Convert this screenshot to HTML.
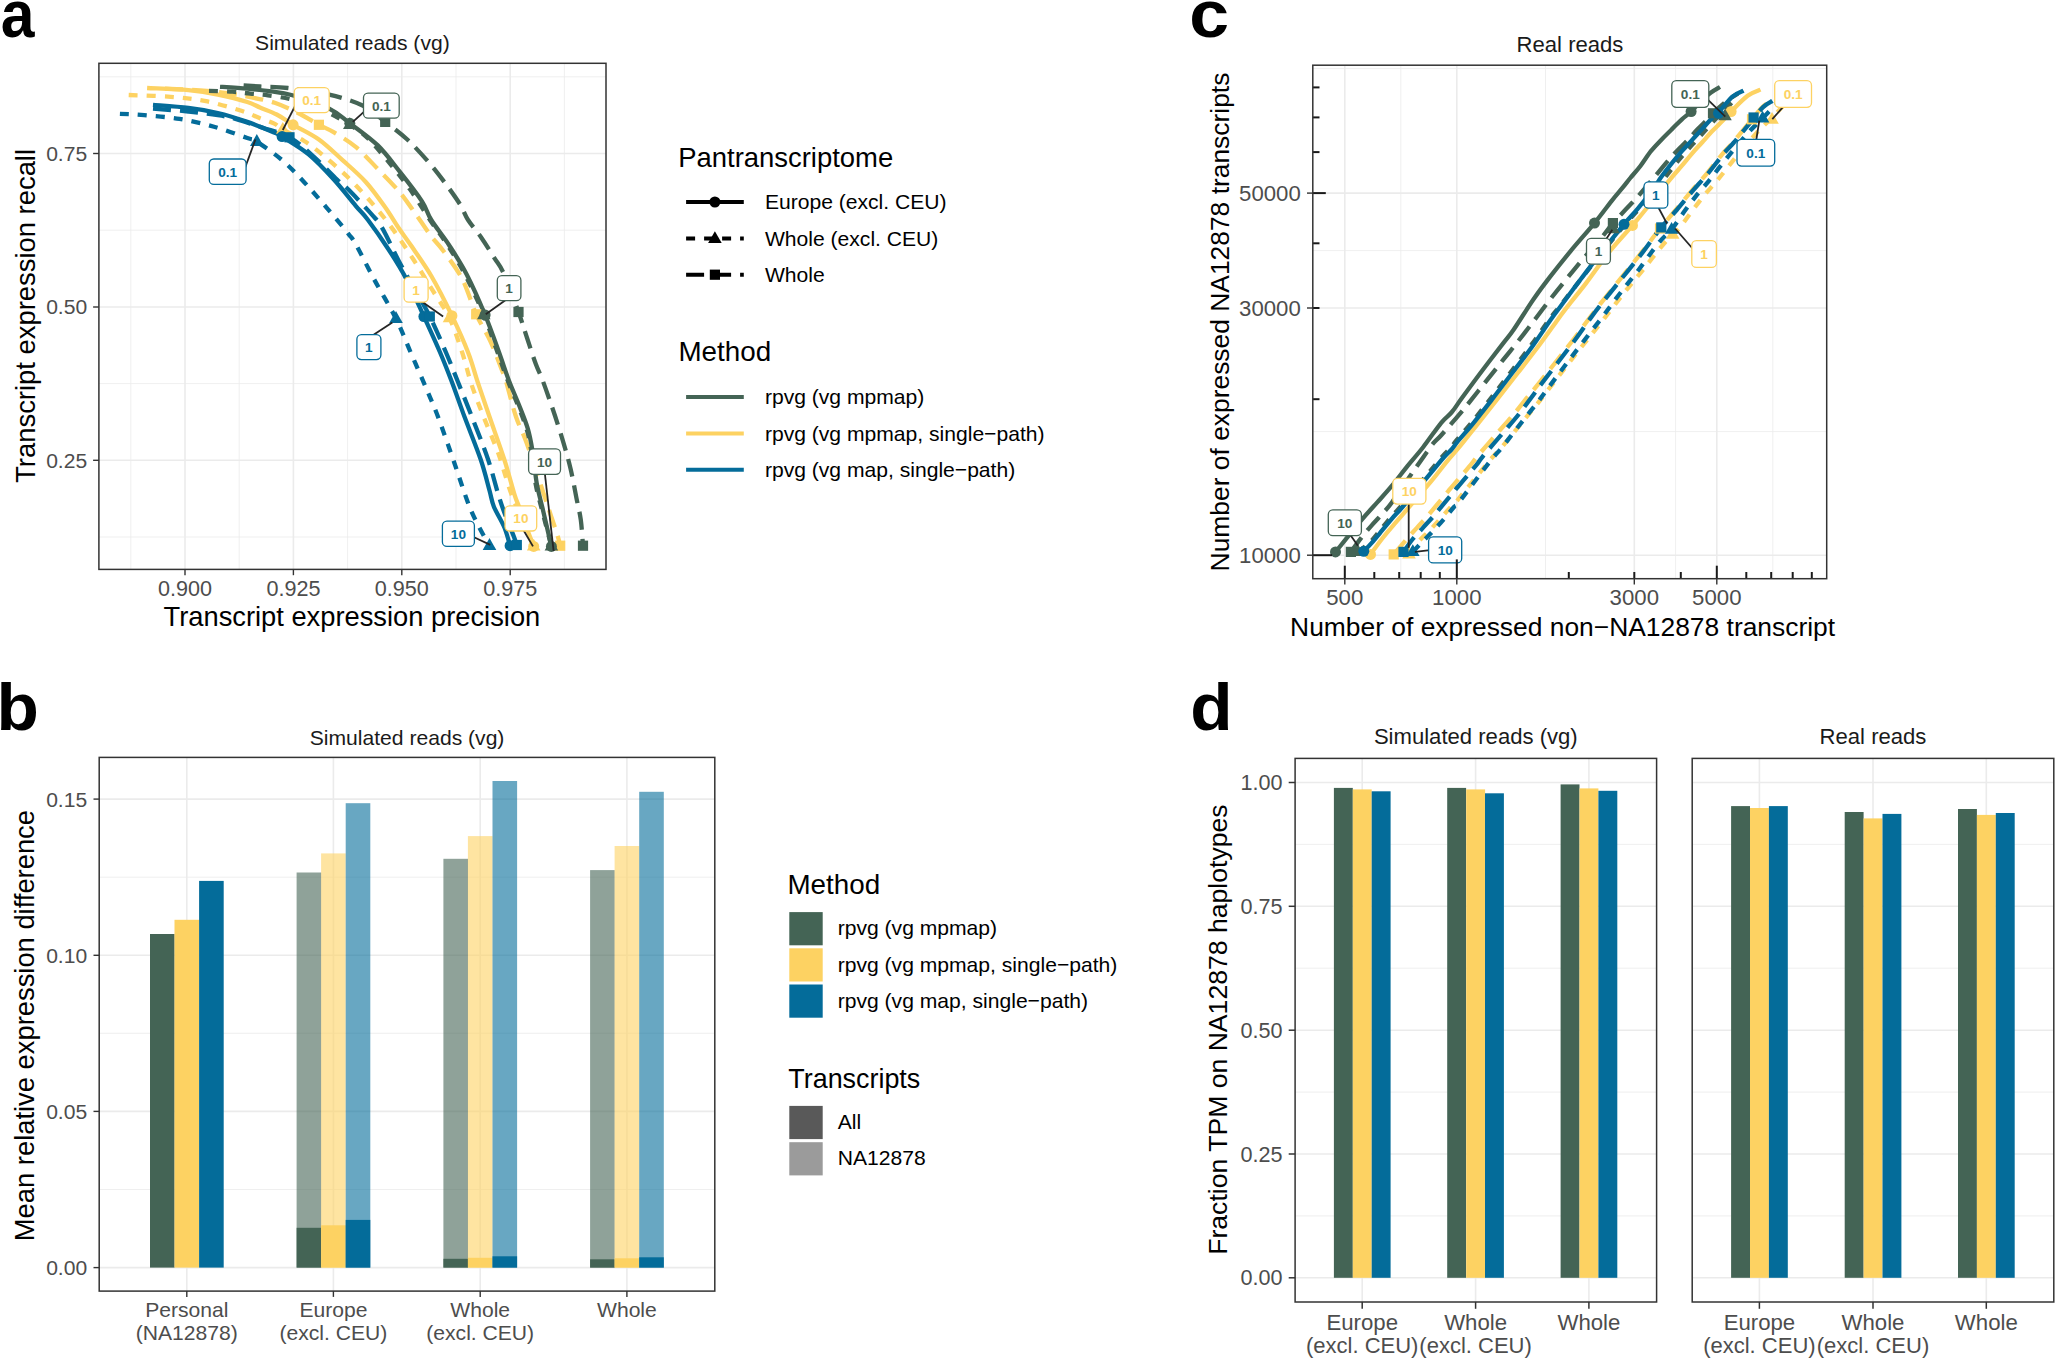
<!DOCTYPE html>
<html lang="en"><head><meta charset="utf-8"><title>Figure</title>
<style>html,body{margin:0;padding:0;background:#fff;}svg{display:block;}</style></head>
<body>
<svg width="2055" height="1358" viewBox="0 0 2055 1358" font-family='"Liberation Sans", sans-serif'>
<rect width="2055" height="1358" fill="#fff"/>
<text transform="translate(0.7 36.6) scale(0.92 1)" x="0" y="0" font-size="66" font-weight="bold" fill="#000">a</text>
<text transform="translate(-3.4 730.4) scale(1.05 1)" x="0" y="0" font-size="66" font-weight="bold" fill="#000">b</text>
<text transform="translate(1189.2 36.6) scale(1.085 1)" x="0" y="0" font-size="66" font-weight="bold" fill="#000">c</text>
<text transform="translate(1190.2 730.4) scale(1.05 1)" x="0" y="0" font-size="66" font-weight="bold" fill="#000">d</text>
<rect x="98.9" y="63.3" width="507.1" height="506.1" fill="#fff"/>
<line x1="130.8" y1="63.3" x2="130.8" y2="569.4" stroke="#EBEBEB" stroke-width="0.8" />
<line x1="239.2" y1="63.3" x2="239.2" y2="569.4" stroke="#EBEBEB" stroke-width="0.8" />
<line x1="347.6" y1="63.3" x2="347.6" y2="569.4" stroke="#EBEBEB" stroke-width="0.8" />
<line x1="456" y1="63.3" x2="456" y2="569.4" stroke="#EBEBEB" stroke-width="0.8" />
<line x1="564.4" y1="63.3" x2="564.4" y2="569.4" stroke="#EBEBEB" stroke-width="0.8" />
<line x1="98.9" y1="76.8" x2="606" y2="76.8" stroke="#EBEBEB" stroke-width="0.8" />
<line x1="98.9" y1="230.2" x2="606" y2="230.2" stroke="#EBEBEB" stroke-width="0.8" />
<line x1="98.9" y1="383.6" x2="606" y2="383.6" stroke="#EBEBEB" stroke-width="0.8" />
<line x1="98.9" y1="537" x2="606" y2="537" stroke="#EBEBEB" stroke-width="0.8" />
<line x1="185" y1="63.3" x2="185" y2="569.4" stroke="#EBEBEB" stroke-width="1.6" />
<line x1="293.4" y1="63.3" x2="293.4" y2="569.4" stroke="#EBEBEB" stroke-width="1.6" />
<line x1="401.8" y1="63.3" x2="401.8" y2="569.4" stroke="#EBEBEB" stroke-width="1.6" />
<line x1="510.2" y1="63.3" x2="510.2" y2="569.4" stroke="#EBEBEB" stroke-width="1.6" />
<line x1="98.9" y1="153.5" x2="606" y2="153.5" stroke="#EBEBEB" stroke-width="1.6" />
<line x1="98.9" y1="307" x2="606" y2="307" stroke="#EBEBEB" stroke-width="1.6" />
<line x1="98.9" y1="460.3" x2="606" y2="460.3" stroke="#EBEBEB" stroke-width="1.6" />
<path d="M128.7 95 C135.7 95.3 157.8 95.8 170.7 96.8 C183.6 97.8 194.2 98.9 206 101.2 C217.8 103.5 232.4 108 241.4 110.8 C250.4 113.6 254.6 116.1 260 118.2 C265.4 120.3 270 121.4 273.8 123.3 C277.6 125.2 277.7 126.5 282.8 129.5 C287.9 132.4 297.7 136.9 304.2 141 C310.7 145.1 314.8 148.4 321.9 154.3 C329 160.2 338.8 168.5 346.9 176.3 C355 184.2 363.1 192.9 370.5 201.4 C377.9 209.9 384.3 217.7 391.5 227.4 C398.7 237.1 406.7 249.2 413.6 259.8 C420.5 270.4 426.8 281 432.8 290.7 C438.8 300.4 444.6 307.7 449.5 318 C454.4 328.3 458.5 341.4 462.2 352.5 C465.9 363.6 467.9 373.7 471.5 384.4 C475.1 395.1 479.1 405.3 483.6 416.8 C488.1 428.3 494 441.3 498.4 453.6 C502.8 465.9 506.5 480.3 510.1 490.5 C513.7 500.7 516.1 505.7 520 515 C523.9 524.3 531.4 541.2 533.7 546.4" fill="none" stroke="#FDD262" stroke-width="4.3" stroke-linejoin="round" stroke-dasharray="9 9"/>
<path d="M147.1 88 C154 88.4 176.6 89.1 188.4 90.2 C200.2 91.3 208 92.6 217.8 94.6 C227.6 96.6 240.3 99.8 247.3 102 C254.3 104.2 255.1 105.4 260 107.5 C264.9 109.6 271.2 111.6 276.7 114.5 C282.2 117.4 286.1 120.6 293.1 124.8 C300.1 129 310.7 133.6 318.9 139.5 C327.1 145.4 334.6 153 342.5 160.1 C350.4 167.2 358.9 174.3 366 182.2 C373.1 190.1 379.9 199.8 385.2 207.3 C390.5 214.8 393.8 220.7 398 227 C402.2 233.3 405.1 236.8 410.7 245 C416.2 253.2 424.4 264.2 431.3 276 C438.2 287.8 445.8 302.9 451.9 315.7 C458 328.4 463.8 341.3 468.1 352.5 C472.5 363.7 474.4 372.3 478 383 C481.6 393.7 485.1 404.1 489.5 416.8 C493.9 429.6 500.1 446.5 504.3 459.5 C508.5 472.5 512.1 487 514.6 494.9 C517.1 502.8 516.9 501 519 506.7 C521.1 512.4 524.5 522.4 527 529 C529.5 535.6 532.6 543.5 533.7 546.4" fill="none" stroke="#FDD262" stroke-width="4.3" stroke-linejoin="round"/>
<path d="M165 88.6 C170.8 88.9 189.2 89.6 200 90.4 C210.8 91.2 221.4 92.3 230 93.5 C238.6 94.7 244.2 96 251.7 97.5 C259.1 99 267 100.1 274.7 102.7 C282.4 105.3 290.6 109.3 298 113 C305.4 116.7 313 121.6 318.9 124.8 C324.8 128 327.5 128.5 333.6 132.2 C339.7 135.9 348.3 140.8 355.7 146.9 C363.1 153 370.4 161.4 377.8 169 C385.2 176.6 393.4 184.7 399.9 192.5 C406.4 200.3 411.8 208.8 417 216 C422.2 223.2 426.7 230.2 431 236 C435.3 241.8 437.8 243.3 443 250.5 C448.2 257.6 456.7 268.3 462.2 278.9 C467.7 289.5 471.5 304 476.2 314.3 C480.9 324.6 485.9 331.5 490.2 340.8 C494.5 350.1 499.4 363.5 502 370.2 C504.6 376.9 503.7 373.2 506 381 C508.3 388.8 512.6 406.7 516 416.8 C519.4 426.9 522.1 430.4 526.3 441.9 C530.5 453.4 537.2 474.2 541.1 486 C545 497.8 547.2 504.4 549.9 512.5 C552.6 520.6 555.6 529.1 557.3 534.6 C559 540.1 559.7 543.9 560.2 545.7" fill="none" stroke="#FDD262" stroke-width="4.3" stroke-linejoin="round" stroke-dasharray="18 9"/>
<path d="M209 90.9 C212.9 91 225.6 91.2 232.5 91.7 C239.4 92.2 244.3 93 250.2 93.6 C256.1 94.2 261.3 94.4 267.9 95.3 C274.4 96.2 282.5 97.4 289.5 99 C296.5 100.6 303.2 102.6 310 105 C316.8 107.4 323.4 110.2 330 113.5 C336.6 116.8 343.6 120.7 349.8 124.8 C356.1 128.9 360.9 131.6 367.5 138 C374.1 144.4 382.5 154.5 389.6 163.1 C396.7 171.7 403.5 180.1 410.2 189.6 C416.9 199.1 423.8 210.8 430 220 C436.2 229.2 441.7 235.9 447.5 245 C453.3 254.1 458.9 262.8 465 274.5 C471.1 286.2 478.4 302 483.8 315 C489.2 328 493.7 341.7 497.6 352.5 C501.6 363.3 504.1 371.2 507.5 380 C510.9 388.8 514.6 396.9 517.8 405 C521 413.1 524.3 421.2 526.5 428.6 C528.7 436 529.5 440.1 531 449.2 C532.5 458.3 533.8 473.3 535.5 483.1 C537.2 492.9 538.9 497.6 541.5 508.1 C544.1 518.6 549.8 540 551.4 546.4" fill="none" stroke="#446455" stroke-width="4.3" stroke-linejoin="round" stroke-dasharray="9 9"/>
<path d="M220 86.8 C224.6 87.1 239.1 88 247.3 88.7 C255.5 89.4 261.9 90.1 269.4 91.2 C276.9 92.3 282.4 92.4 292.4 95.3 C302.4 98.2 319.6 103.9 329.2 108.6 C338.8 113.3 341.7 117.2 349.8 123.3 C357.9 129.4 369.5 137.3 377.8 145.4 C386.1 153.5 392.5 162.6 399.9 171.9 C407.3 181.2 416.8 193.4 422 201.4 C427.2 209.4 426.8 212.7 431.3 220 C435.8 227.3 443.1 235.9 449 245 C454.9 254.1 460.7 262.8 466.7 274.5 C472.7 286.2 479.7 302 485.1 315 C490.5 328 495.2 341.7 499.1 352.5 C503 363.3 505.4 371.2 508.7 380 C512 388.8 515.8 396.9 519 405 C522.2 413.1 525.6 421.2 527.8 428.6 C530 436 530.7 440.1 532.2 449.2 C533.7 458.3 535 473.3 536.7 483.1 C538.4 492.9 540 497.6 542.5 508.1 C545 518.6 549.9 540 551.4 546.4" fill="none" stroke="#446455" stroke-width="4.3" stroke-linejoin="round"/>
<path d="M243.6 85.3 C246.3 85.5 252.6 86 260 86.5 C267.4 87 276.5 86.7 288 88 C299.5 89.3 316.7 91.6 329.2 94.6 C341.7 97.5 353.8 101.2 363.1 105.7 C372.4 110.2 377.8 116.3 385.2 121.9 C392.6 127.5 399.9 132.6 407.3 139.5 C414.7 146.4 423 155.7 429.4 163.1 C435.8 170.5 440.5 176.8 445.6 183.7 C450.7 190.6 456.2 198.2 460 204.3 C463.8 210.4 464.5 214.4 468.1 220 C471.7 225.6 477 231.3 481.4 237.7 C485.8 244.1 490.9 252.4 494.6 258.3 C498.3 264.2 499.5 264.1 503.5 273 C507.5 281.9 514.6 301.2 518.5 312 C522.4 322.8 524.1 329.1 527 337.8 C529.9 346.5 533.3 357.3 535.9 364.3 C538.5 371.3 539.7 372.5 542.5 380 C545.3 387.5 549.4 399.2 552.9 409.5 C556.4 419.8 560.3 432.1 563.2 441.9 C566.1 451.7 568.3 459.1 570.5 468.4 C572.7 477.7 574.7 489.2 576.4 497.8 C578.1 506.4 579.7 511.9 580.8 519.9 C581.9 527.9 582.6 541.4 583 545.7" fill="none" stroke="#446455" stroke-width="4.3" stroke-linejoin="round" stroke-dasharray="18 9"/>
<path d="M119.9 113.8 C124 114 134.3 114.3 144.2 115.2 C154.1 116.1 167.7 116.9 179.5 118.9 C191.3 120.9 203.6 123.8 214.9 127 C226.2 130.2 240.3 135.6 247.3 138 C254.3 140.4 251 138 256.8 141.7 C262.6 145.4 274.2 153.3 282.1 160.1 C290 166.8 296.8 174.3 304.2 182.2 C311.6 190.1 318.9 198.7 326.3 207.3 C333.7 215.9 343.4 227.5 348.4 233.8 C353.4 240.1 351.9 237.5 356.2 245 C360.4 252.5 367.3 266.6 373.9 278.9 C380.5 291.2 389.9 306.4 396 318.7 C402.1 331 405.8 341.2 410.7 352.5 C415.6 363.8 420.8 375.7 425.4 386.4 C429.9 397.1 433.2 404.1 438 416.8 C442.8 429.5 449.1 447.8 454.2 462.5 C459.3 477.2 464.7 494.4 468.9 505.2 C473.1 516 475.8 520.5 479.2 527.3 C482.6 534 487.8 542.6 489.5 545.7" fill="none" stroke="#046C9A" stroke-width="4.3" stroke-linejoin="round" stroke-dasharray="9 9"/>
<path d="M153 104.9 C158.9 105.4 177.6 106.6 188.4 107.9 C199.2 109.2 208 110.7 217.8 113 C227.6 115.3 237.5 118.5 247.3 121.9 C257.1 125.3 270.9 131.2 276.7 133.6 C282.5 136 276.8 133.1 282.1 136.6 C287.4 140.1 300 147.2 308.6 154.3 C317.2 161.4 325.8 170.7 333.6 179.3 C341.5 187.9 350 199 355.7 205.8 C361.4 212.6 362.5 212.7 368 220 C373.5 227.3 382.2 239.7 388.6 249.5 C395 259.3 400.4 267.7 406.3 278.9 C412.2 290.1 418.3 304.2 423.9 316.5 C429.5 328.8 435.5 341.8 440.1 352.5 C444.7 363.2 447.4 370.3 451.5 381 C455.6 391.7 459.6 403.7 464.5 416.8 C469.4 429.9 476.5 447.2 480.7 459.5 C484.9 471.8 487.3 482.6 489.5 490.5 C491.7 498.4 491.4 500.6 493.9 506.7 C496.4 512.8 501.6 520.8 504.3 527.3 C507 533.8 509.1 542.6 510.1 545.7" fill="none" stroke="#046C9A" stroke-width="4.3" stroke-linejoin="round"/>
<path d="M153 108.6 C158.9 109.1 177.6 110.4 188.4 111.5 C199.2 112.6 210 114 217.8 115.2 C225.7 116.4 228.1 116.9 235.5 118.9 C242.9 121 253 124.4 262 127.5 C271 130.6 281.2 132.7 289.5 137.3 C297.8 141.9 304.1 148 312 155 C319.9 162 330.9 173.7 337 179.5 C343.1 185.3 342.6 183.8 348.4 189.6 C354.2 195.4 366.2 208.1 371.9 214.6 C377.6 221.1 378.2 221 382.7 228.8 C387.2 236.6 393.6 251.2 398.9 261.2 C404.2 271.2 409.4 279.8 414.5 289 C419.6 298.2 424.6 305.9 429.8 316.5 C435.1 327.1 441.4 341.8 446 352.5 C450.6 363.2 453.3 370.3 457.6 381 C461.9 391.7 466.8 403.7 471.9 416.8 C477 429.9 483.7 446.5 488.1 459.5 C492.5 472.5 495.7 486.1 498.4 494.9 C501.1 503.7 501.9 505.9 504.3 512.5 C506.8 519.1 511 529.2 513.1 534.6 C515.2 540 516.2 543.3 516.8 545" fill="none" stroke="#046C9A" stroke-width="4.3" stroke-linejoin="round" stroke-dasharray="18 9"/>
<path d="M282.8 121.9 L289.6 133.7 L276 133.7 Z" fill="#FDD262"/>
<path d="M449.5 310.4 L456.3 322.2 L442.7 322.2 Z" fill="#FDD262"/>
<path d="M533.7 538.8 L540.5 550.6 L526.9 550.6 Z" fill="#FDD262"/>
<circle cx="293.1" cy="124.8" r="5.5" fill="#FDD262"/>
<circle cx="451.9" cy="315.7" r="5.5" fill="#FDD262"/>
<circle cx="533.7" cy="546.4" r="5.5" fill="#FDD262"/>
<rect x="313.8" y="119.7" width="10.2" height="10.2" fill="#FDD262"/>
<rect x="471.1" y="309.2" width="10.2" height="10.2" fill="#FDD262"/>
<rect x="555.1" y="540.6" width="10.2" height="10.2" fill="#FDD262"/>
<path d="M349.8 117.2 L356.6 129 L343 129 Z" fill="#446455"/>
<path d="M483.8 307.4 L490.6 319.2 L477 319.2 Z" fill="#446455"/>
<path d="M551.4 538.8 L558.2 550.6 L544.6 550.6 Z" fill="#446455"/>
<circle cx="349.8" cy="123.3" r="5.5" fill="#446455"/>
<circle cx="485.1" cy="315" r="5.5" fill="#446455"/>
<circle cx="551.4" cy="546.4" r="5.5" fill="#446455"/>
<rect x="380.1" y="116.8" width="10.2" height="10.2" fill="#446455"/>
<rect x="513.4" y="306.9" width="10.2" height="10.2" fill="#446455"/>
<rect x="577.9" y="540.6" width="10.2" height="10.2" fill="#446455"/>
<path d="M256.8 134.1 L263.6 145.9 L250 145.9 Z" fill="#046C9A"/>
<path d="M396 311.1 L402.8 322.9 L389.2 322.9 Z" fill="#046C9A"/>
<path d="M489.5 538.1 L496.3 549.9 L482.7 549.9 Z" fill="#046C9A"/>
<circle cx="282.1" cy="136.6" r="5.5" fill="#046C9A"/>
<circle cx="423.9" cy="316.5" r="5.5" fill="#046C9A"/>
<circle cx="510.1" cy="545.7" r="5.5" fill="#046C9A"/>
<rect x="284.4" y="132.2" width="10.2" height="10.2" fill="#046C9A"/>
<rect x="424.7" y="311.4" width="10.2" height="10.2" fill="#046C9A"/>
<rect x="511.7" y="539.9" width="10.2" height="10.2" fill="#046C9A"/>
<line x1="296" y1="104.2" x2="282.8" y2="130" stroke="#262626" stroke-width="1.8" />
<rect x="294.2" y="87.7" width="35" height="25" rx="4.5" ry="4.5" fill="#fff" stroke="#FDD262" stroke-width="1.3"/>
<text x="311.7" y="105.1" font-size="13.6" fill="#FDD262" text-anchor="middle" font-weight="bold" >0.1</text>
<line x1="365" y1="110.8" x2="352.8" y2="121.9" stroke="#262626" stroke-width="1.8" />
<rect x="363.5" y="93.1" width="35.7" height="25.1" rx="4.5" ry="4.5" fill="#fff" stroke="#446455" stroke-width="1.3"/>
<text x="381.4" y="110.6" font-size="13.6" fill="#446455" text-anchor="middle" font-weight="bold" >0.1</text>
<line x1="245" y1="168" x2="255.4" y2="139.5" stroke="#262626" stroke-width="1.8" />
<rect x="209.3" y="159" width="36.8" height="25.4" rx="4.5" ry="4.5" fill="#fff" stroke="#046C9A" stroke-width="1.3"/>
<text x="227.7" y="176.6" font-size="13.6" fill="#046C9A" text-anchor="middle" font-weight="bold" >0.1</text>
<line x1="371.7" y1="336" x2="392.3" y2="322.4" stroke="#262626" stroke-width="1.8" />
<rect x="356.9" y="334.6" width="24" height="25" rx="4.5" ry="4.5" fill="#fff" stroke="#046C9A" stroke-width="1.3"/>
<text x="368.9" y="352" font-size="13.6" fill="#046C9A" text-anchor="middle" font-weight="bold" >1</text>
<line x1="421" y1="301" x2="443.1" y2="316.5" stroke="#262626" stroke-width="1.8" />
<rect x="404.1" y="277.1" width="24" height="25.1" rx="4.5" ry="4.5" fill="#fff" stroke="#FDD262" stroke-width="1.3"/>
<text x="416.1" y="294.5" font-size="13.6" fill="#FDD262" text-anchor="middle" font-weight="bold" >1</text>
<line x1="506.4" y1="299.5" x2="485.8" y2="314.3" stroke="#262626" stroke-width="1.8" />
<rect x="497.3" y="275.7" width="23.6" height="25" rx="4.5" ry="4.5" fill="#fff" stroke="#446455" stroke-width="1.3"/>
<text x="509.1" y="293.1" font-size="13.6" fill="#446455" text-anchor="middle" font-weight="bold" >1</text>
<line x1="473" y1="536.8" x2="490.3" y2="544.9" stroke="#262626" stroke-width="1.8" />
<rect x="442.4" y="521.1" width="32" height="25.3" rx="4.5" ry="4.5" fill="#fff" stroke="#046C9A" stroke-width="1.3"/>
<text x="458.4" y="538.6" font-size="13.6" fill="#046C9A" text-anchor="middle" font-weight="bold" >10</text>
<line x1="523.4" y1="530" x2="533" y2="546.4" stroke="#262626" stroke-width="1.8" />
<rect x="505" y="505.9" width="31.7" height="25.1" rx="4.5" ry="4.5" fill="#fff" stroke="#FDD262" stroke-width="1.3"/>
<text x="520.9" y="523.4" font-size="13.6" fill="#FDD262" text-anchor="middle" font-weight="bold" >10</text>
<line x1="544.8" y1="473" x2="553.6" y2="550.8" stroke="#262626" stroke-width="1.8" />
<rect x="528.6" y="448.9" width="31.9" height="25.4" rx="4.5" ry="4.5" fill="#fff" stroke="#446455" stroke-width="1.3"/>
<text x="544.5" y="466.5" font-size="13.6" fill="#446455" text-anchor="middle" font-weight="bold" >10</text>
<rect x="98.9" y="63.3" width="507.1" height="506.1" fill="none" stroke="#333333" stroke-width="1.5"/>
<line x1="185" y1="569.4" x2="185" y2="575.2" stroke="#333333" stroke-width="1.4" />
<text x="185" y="595.8" font-size="21.6" fill="#4D4D4D" text-anchor="middle" >0.900</text>
<line x1="293.4" y1="569.4" x2="293.4" y2="575.2" stroke="#333333" stroke-width="1.4" />
<text x="293.4" y="595.8" font-size="21.6" fill="#4D4D4D" text-anchor="middle" >0.925</text>
<line x1="401.8" y1="569.4" x2="401.8" y2="575.2" stroke="#333333" stroke-width="1.4" />
<text x="401.8" y="595.8" font-size="21.6" fill="#4D4D4D" text-anchor="middle" >0.950</text>
<line x1="510.2" y1="569.4" x2="510.2" y2="575.2" stroke="#333333" stroke-width="1.4" />
<text x="510.2" y="595.8" font-size="21.6" fill="#4D4D4D" text-anchor="middle" >0.975</text>
<line x1="93.1" y1="153.5" x2="98.9" y2="153.5" stroke="#333333" stroke-width="1.4" />
<text x="87.2" y="160.9" font-size="21.1" fill="#4D4D4D" text-anchor="end" >0.75</text>
<line x1="93.1" y1="307" x2="98.9" y2="307" stroke="#333333" stroke-width="1.4" />
<text x="87.2" y="314.4" font-size="21.1" fill="#4D4D4D" text-anchor="end" >0.50</text>
<line x1="93.1" y1="460.3" x2="98.9" y2="460.3" stroke="#333333" stroke-width="1.4" />
<text x="87.2" y="467.7" font-size="21.1" fill="#4D4D4D" text-anchor="end" >0.25</text>
<text x="352.4" y="50.2" font-size="21.1" fill="#1A1A1A" text-anchor="middle" >Simulated reads (vg)</text>
<text x="351.9" y="625.7" font-size="27.3" fill="#000" text-anchor="middle" >Transcript expression precision</text>
<text x="34.8" y="315.9" font-size="27.4" fill="#000" text-anchor="middle" transform="rotate(-90 34.8 315.9)" >Transcript expression recall</text>
<text x="678.2" y="167.2" font-size="27.45" fill="#000" text-anchor="start" >Pantranscriptome</text>
<line x1="686.1" y1="202" x2="743.8" y2="202" stroke="#000" stroke-width="4" />
<circle cx="714.9" cy="202" r="5.5" fill="#000"/>
<line x1="686.1" y1="238.4" x2="743.8" y2="238.4" stroke="#000" stroke-width="4" stroke-dasharray="9 9"/>
<path d="M714.9 231.2 L721.7 243 L708.1 243 Z" fill="#000"/>
<line x1="686.1" y1="274.7" x2="743.8" y2="274.7" stroke="#000" stroke-width="4" stroke-dasharray="18 9"/>
<rect x="709.8" y="269.6" width="10.2" height="10.2" fill="#000"/>
<text x="764.9" y="209.4" font-size="21.1" fill="#000" text-anchor="start" >Europe (excl. CEU)</text>
<text x="764.9" y="245.8" font-size="21.1" fill="#000" text-anchor="start" >Whole (excl. CEU)</text>
<text x="764.9" y="282.1" font-size="21.1" fill="#000" text-anchor="start" >Whole</text>
<text x="678.4" y="361.3" font-size="27.8" fill="#000" text-anchor="start" >Method</text>
<line x1="686.1" y1="397" x2="743.8" y2="397" stroke="#446455" stroke-width="4" />
<text x="764.9" y="404.3" font-size="21.1" fill="#000" text-anchor="start" >rpvg (vg mpmap)</text>
<line x1="686.1" y1="433.4" x2="743.8" y2="433.4" stroke="#FDD262" stroke-width="4" />
<text x="764.9" y="440.7" font-size="21.1" fill="#000" text-anchor="start" >rpvg (vg mpmap, single−path)</text>
<line x1="686.1" y1="469.8" x2="743.8" y2="469.8" stroke="#046C9A" stroke-width="4" />
<text x="764.9" y="477.1" font-size="21.1" fill="#000" text-anchor="start" >rpvg (vg map, single−path)</text>
<rect x="1312.8" y="65.2" width="513.9" height="513.5" fill="#fff"/>
<line x1="1400.8" y1="65.2" x2="1400.8" y2="578.7" stroke="#EBEBEB" stroke-width="0.8" />
<line x1="1545.5" y1="65.2" x2="1545.5" y2="578.7" stroke="#EBEBEB" stroke-width="0.8" />
<line x1="1675.6" y1="65.2" x2="1675.6" y2="578.7" stroke="#EBEBEB" stroke-width="0.8" />
<line x1="1772.8" y1="65.2" x2="1772.8" y2="578.7" stroke="#EBEBEB" stroke-width="0.8" />
<line x1="1312.8" y1="68.6" x2="1826.7" y2="68.6" stroke="#EBEBEB" stroke-width="0.8" />
<line x1="1312.8" y1="250.6" x2="1826.7" y2="250.6" stroke="#EBEBEB" stroke-width="0.8" />
<line x1="1312.8" y1="431.6" x2="1826.7" y2="431.6" stroke="#EBEBEB" stroke-width="0.8" />
<line x1="1344.8" y1="65.2" x2="1344.8" y2="578.7" stroke="#EBEBEB" stroke-width="1.6" />
<line x1="1456.8" y1="65.2" x2="1456.8" y2="578.7" stroke="#EBEBEB" stroke-width="1.6" />
<line x1="1634.3" y1="65.2" x2="1634.3" y2="578.7" stroke="#EBEBEB" stroke-width="1.6" />
<line x1="1716.8" y1="65.2" x2="1716.8" y2="578.7" stroke="#EBEBEB" stroke-width="1.6" />
<line x1="1312.8" y1="193.1" x2="1826.7" y2="193.1" stroke="#EBEBEB" stroke-width="1.6" />
<line x1="1312.8" y1="308" x2="1826.7" y2="308" stroke="#EBEBEB" stroke-width="1.6" />
<line x1="1312.8" y1="555.2" x2="1826.7" y2="555.2" stroke="#EBEBEB" stroke-width="1.6" />
<path d="M1393.7 554.4 C1395.9 551.8 1402.9 543.5 1406.8 539 C1410.7 534.5 1413.7 531.4 1417.1 527.6 C1420.5 523.8 1424 520.2 1427.4 516.3 C1430.8 512.3 1434.3 508 1437.7 503.9 C1441.1 499.8 1445.3 494.8 1448 491.5 C1450.7 488.2 1450.2 488.7 1454 484.3 C1457.8 479.9 1466.7 469.7 1470.5 465.1 C1474.3 460.5 1472.8 461.8 1477 456.8 C1481.2 451.8 1489.4 442.2 1495.5 435.2 C1501.6 428.1 1507.8 421.4 1513.6 414.5 C1519.3 407.6 1526.1 398.7 1530 393.9 C1533.9 389.1 1530.1 394.3 1537 385.7 C1543.9 377.1 1563 352.9 1571.5 342 C1580 331.1 1583.2 326.4 1588 320 C1592.8 313.6 1595 310.7 1600.5 303.7 C1606 296.7 1614.3 286.5 1621.2 277.9 C1628.1 269.3 1635.3 260.4 1641.8 252.2 C1648.3 244 1654.3 235.5 1660 228.5 C1665.7 221.5 1670.5 216.2 1675.7 210 C1680.9 203.8 1686.1 197.4 1691.2 191.4 C1696.3 185.4 1701.4 180.1 1706.6 173.9 C1711.8 167.7 1717.8 159.5 1722.1 154.3 C1726.4 149.2 1729 146.9 1732.4 143 C1735.8 139.1 1739.4 134.5 1742.7 130.6 C1746 126.6 1748.8 123.1 1752 119.3 C1755.2 115.5 1759 110.5 1762 107.5 C1765 104.5 1768.7 102.5 1770 101.5" fill="none" stroke="#FDD262" stroke-width="4.3" stroke-linejoin="round" stroke-dasharray="18 9"/>
<path d="M1409 554.4 C1410.7 552.2 1415.7 545 1419.1 541 C1422.5 537 1426 534.3 1429.4 530.7 C1432.8 527.1 1436.2 523.4 1439.7 519.4 C1443.3 515.4 1447.8 510.1 1450.7 507 C1453.5 503.9 1450.8 508.1 1457 500.8 C1463.1 493.5 1480.3 471.7 1487.5 463 C1494.8 454.3 1496.4 453.4 1500.6 448.6 C1504.7 443.8 1508.6 438.9 1512.5 434.1 C1516.5 429.3 1520.1 424.7 1524.2 419.7 C1528.3 414.7 1533.1 409 1537 404.2 C1540.9 399.4 1541.6 398.3 1547.5 390.6 C1553.5 382.9 1563.1 370.3 1572.6 358.2 C1582.1 346.1 1596.7 328 1604.5 318.1 C1612.4 308.2 1615.1 304.3 1619.5 298.6 C1624 292.9 1627.3 288.9 1631.2 284.1 C1635.1 279.3 1639.2 274.7 1643.2 269.7 C1647.2 264.7 1651.3 259.2 1655.3 254.2 C1659.3 249.2 1663.5 243.9 1667.3 239.8 C1671.1 235.7 1674.1 234.1 1678.1 229.5 C1682.1 224.9 1687 217.8 1691.3 212.1 C1695.6 206.4 1699.8 200.8 1704 195.6 C1708.3 190.4 1712.7 185.9 1716.7 181.1 C1720.7 176.3 1724.2 171.7 1728.2 166.7 C1732.3 161.7 1736.1 156.8 1740.9 151.2 C1745.6 145.6 1751.5 138.5 1756.6 133 C1761.7 127.5 1767.2 122.5 1771.3 118.3 C1775.4 114.1 1778.9 110.4 1781.2 108.1 C1783.4 105.8 1784.2 105.1 1784.8 104.5" fill="none" stroke="#FDD262" stroke-width="4.3" stroke-linejoin="round" stroke-dasharray="9 9"/>
<path d="M1358 551.9 C1360 550.2 1366.4 545.7 1370.2 542 C1374 538.3 1377.2 533.7 1380.6 529.6 C1384.1 525.5 1387.5 521.2 1390.9 517.3 C1394.3 513.3 1395.2 512.9 1401.2 505.9 C1407.2 498.8 1420 483.2 1426.9 475 C1433.8 466.8 1438.5 460.8 1442.4 456.4 C1446.3 452 1447.8 451.1 1450.2 448.4 C1452.6 445.6 1453.4 444 1456.8 439.9 C1460.2 435.8 1465.1 430.5 1470.7 423.7 C1476.3 416.9 1483.5 407.6 1490.2 399 C1496.9 390.4 1503.8 381.3 1510.7 372.2 C1517.6 363.1 1525.2 353.2 1531.7 344.4 C1538.2 335.6 1544.7 325.7 1549.5 319.2 C1554.3 312.7 1555.2 312 1560.5 305.4 C1565.7 298.7 1574.1 287.9 1581 279.1 C1588 270.2 1594.7 261.5 1602 252.4 C1609.3 243.4 1618.7 231.9 1624.8 224.7 C1630.9 217.5 1633.4 215.2 1638.7 209.4 C1644.1 203.7 1652.4 195.5 1656.7 190.3 C1661 185.1 1661.7 182.3 1664.8 178 C1667.9 173.7 1671.6 168.9 1675.1 164.6 C1678.5 160.3 1682 156.1 1685.5 152.2 C1689 148.2 1692.4 144.7 1695.8 140.9 C1699.2 137.1 1702.7 133.4 1706.1 129.6 C1709.5 125.8 1713.8 120.8 1716.4 118.2 C1719 115.6 1718.4 117.4 1721.6 114 C1724.8 110.6 1733.4 100.5 1735.8 97.8" fill="none" stroke="#446455" stroke-width="4.3" stroke-linejoin="round" stroke-dasharray="9 9"/>
<path d="M1370.5 554.4 C1372.4 551.8 1378.3 543.6 1381.9 539 C1385.5 534.4 1388.2 531.2 1392.2 526.6 C1396.2 522 1399.1 518.7 1405.6 511.1 C1412.1 503.5 1424.4 489.4 1431.3 481.2 C1438.2 472.9 1442 467.4 1446.8 461.6 C1451.6 455.8 1455 452.3 1460 446.2 C1465 440.1 1470.9 432.5 1477 424.8 C1483.1 417.1 1489.8 408.7 1496.5 400.1 C1503.2 391.5 1510.4 382.4 1517.5 373.3 C1524.6 364.2 1532.3 354.4 1539 345.5 C1545.7 336.6 1552.7 326.6 1557.5 320 C1562.3 313.4 1563.2 311.9 1568 305.8 C1572.8 299.7 1579.3 292 1586.1 283.1 C1592.9 274.2 1601.3 261.8 1609 252.2 C1616.7 242.6 1626.9 231.9 1632.5 225.4 C1638.1 218.9 1636.6 220.6 1642.8 213 C1649 205.4 1663 188 1669.5 180.1 C1676 172.2 1678.1 170.2 1681.9 165.7 C1685.7 161.2 1688.8 157.2 1692.2 153.3 C1695.6 149.4 1699.1 145.8 1702.5 142 C1705.9 138.2 1709.4 134.2 1712.8 130.6 C1716.2 127 1720 123.5 1723.1 120.3 C1726.1 117.1 1727 115.6 1731.1 111.5 C1735.2 107.4 1742.7 99.5 1747.6 95.8 C1752.5 92.1 1758.3 90.6 1760.5 89.6" fill="none" stroke="#FDD262" stroke-width="4.3" stroke-linejoin="round"/>
<path d="M1350.9 552 C1352.6 549.6 1357.8 542.3 1361.2 537.9 C1364.6 533.5 1368 529.5 1371.5 525.6 C1375 521.7 1378.5 518.2 1381.9 514.2 C1385.4 510.3 1387.1 508.9 1392.2 501.9 C1397.3 494.9 1407.7 479.4 1412.8 472 C1417.9 464.6 1419.7 462.3 1423.1 457.5 C1426.5 452.7 1430.4 446.8 1433.4 443.1 C1436.4 439.4 1436.5 440.5 1441.2 435.2 C1446 429.9 1455 419.6 1461.9 411.4 C1468.8 403.1 1475.6 394.3 1482.5 385.7 C1489.4 377.1 1496.2 368.5 1503.1 359.9 C1510 351.3 1515.9 344.2 1523.7 334.1 C1531.5 324.1 1542.9 308.8 1550 299.6 C1557.1 290.4 1561.3 285.4 1566.5 279 C1571.7 272.6 1575.1 268.3 1580.9 261.4 C1586.7 254.5 1596.2 244.1 1601.5 237.7 C1606.8 231.3 1608.6 228.1 1612.9 223.1 C1617.2 218.1 1622.8 212.6 1627.3 207.8 C1631.8 203 1634.9 199.9 1639.7 194.4 C1644.5 188.9 1651.6 180.3 1656.1 175 C1660.5 169.7 1663 166.6 1666.4 162.6 C1669.8 158.6 1673.3 154.8 1676.7 151.2 C1680.1 147.6 1683.6 144.5 1687 140.9 C1690.4 137.3 1693.9 133.2 1697.3 129.6 C1700.7 126 1705 122.1 1707.6 119.3 C1710.2 116.5 1709.6 116.2 1713 113 C1716.4 109.8 1723.8 103.2 1728 100 C1732.2 96.8 1736.3 94.6 1738 93.5" fill="none" stroke="#446455" stroke-width="4.3" stroke-linejoin="round" stroke-dasharray="18 9"/>
<path d="M1335.5 552 C1339.8 546.7 1354.2 528.8 1361.2 520.4 C1368.2 512 1372.5 507.7 1377.7 501.9 C1382.9 496.1 1387.2 491.4 1392.2 485.4 C1397.2 479.4 1402.4 472.2 1407.6 465.8 C1412.8 459.4 1417.5 454.4 1423.1 447.2 C1428.7 440 1436.5 428.6 1441.2 422.8 C1445.9 417 1448 416.6 1451.5 412.5 C1455 408.4 1456.7 405.1 1461.9 398 C1467.1 390.9 1475.6 379.3 1482.5 370.2 C1489.4 361.1 1497.9 350.1 1503.1 343.4 C1508.2 336.7 1508.4 337.2 1513.4 330 C1518.4 322.8 1526.9 308.9 1533 300 C1539.1 291.1 1543.7 285 1550 276.9 C1556.3 268.8 1563.2 260.1 1570.6 251.1 C1578 242.1 1587.6 231.5 1594.5 223.1 C1601.4 214.7 1607.3 206.4 1611.9 200.6 C1616.5 194.8 1619.1 192 1622.2 188.2 C1625.3 184.4 1627.2 181.8 1630.3 178 C1633.4 174.2 1637.2 170.2 1640.6 165.7 C1644 161.2 1647.5 155.5 1650.9 151.2 C1654.3 146.9 1657.8 143.5 1661.2 139.9 C1664.6 136.3 1668 133 1671.5 129.6 C1675 126.2 1678.6 122.3 1681.9 119.3 C1685.2 116.3 1687.8 114.7 1691.1 111.5 C1694.4 108.3 1698.7 103.2 1702 100 C1705.3 96.8 1708 94.7 1711 92.5 C1714 90.3 1718.5 87.9 1720 87" fill="none" stroke="#446455" stroke-width="4.3" stroke-linejoin="round"/>
<path d="M1412.8 551.9 C1414.5 550.1 1419.7 544.5 1423.1 541 C1426.5 537.5 1430 534.3 1433.4 530.7 C1436.8 527.1 1440.3 523.4 1443.7 519.4 C1447.1 515.4 1451.3 510.1 1454 507 C1456.7 503.9 1454.2 508.1 1460 500.8 C1465.8 493.5 1481.9 471.7 1488.7 463 C1495.5 454.3 1497 453.4 1501 448.6 C1505 443.8 1508.6 438.9 1512.4 434.1 C1516.2 429.3 1519.8 424.7 1523.7 419.7 C1527.7 414.7 1532.3 409 1536.1 404.2 C1539.9 399.4 1540.5 398.3 1546.3 390.6 C1552 382.9 1561.4 370.3 1570.6 358.2 C1579.8 346.1 1593.9 328 1601.5 318.1 C1609.1 308.2 1611.7 304.3 1616 298.6 C1620.3 292.9 1623.5 288.9 1627.3 284.1 C1631.1 279.3 1634.9 274.7 1638.7 269.7 C1642.5 264.7 1646.2 259.2 1650 254.2 C1653.8 249.2 1657.7 243.9 1661.3 239.8 C1664.9 235.7 1667.8 234.1 1671.6 229.5 C1675.4 224.9 1679.8 217.8 1683.9 212.1 C1688 206.4 1692.2 200.8 1696.3 195.6 C1700.4 190.4 1704.8 185.9 1708.7 181.1 C1712.7 176.3 1716 171.7 1720 166.7 C1724 161.7 1727.7 156.8 1732.4 151.2 C1737.1 145.6 1743 138.5 1748 133 C1753 127.5 1758.5 122.5 1762.6 118.3 C1766.7 114.1 1770.2 110.4 1772.4 108.1 C1774.6 105.8 1775.4 105.1 1776 104.5" fill="none" stroke="#046C9A" stroke-width="4.3" stroke-linejoin="round" stroke-dasharray="9 9"/>
<path d="M1403.5 551.9 C1405 549.8 1409.5 543 1412.8 539 C1416.1 535 1419.7 531.4 1423.1 527.6 C1426.5 523.8 1430 520.2 1433.4 516.3 C1436.8 512.3 1440.3 508 1443.7 503.9 C1447.1 499.8 1451.3 494.8 1454 491.5 C1456.7 488.2 1456.3 488.7 1460 484.3 C1463.7 479.9 1472.5 469.7 1476.3 465.1 C1480 460.5 1478.4 461.8 1482.5 456.8 C1486.6 451.8 1495 442.2 1501 435.2 C1507 428.1 1513.1 421.4 1518.6 414.5 C1524.1 407.6 1530.4 398.7 1534 393.9 C1537.6 389.1 1533.4 394.3 1540 385.7 C1546.6 377.1 1565.3 352.9 1573.5 342 C1581.7 331.1 1584.5 326.4 1589.2 320 C1593.9 313.6 1596 310.7 1601.5 303.7 C1607 296.7 1615.3 286.5 1622.2 277.9 C1629.1 269.3 1636.3 260.6 1642.8 252.2 C1649.3 243.8 1655.6 234.4 1661.3 227.4 C1667 220.4 1671.5 216 1676.7 210 C1681.9 204 1687.1 197.4 1692.2 191.4 C1697.3 185.4 1702.4 180.1 1707.6 173.9 C1712.8 167.7 1718.8 159.5 1723.1 154.3 C1727.4 149.2 1730 146.9 1733.4 143 C1736.8 139.1 1740.4 134.5 1743.7 130.6 C1747 126.6 1749.8 123.2 1753 119.3 C1756.2 115.4 1759.9 110.2 1763.1 107.1 C1766.3 104 1770.9 101.9 1772.4 100.9" fill="none" stroke="#046C9A" stroke-width="4.3" stroke-linejoin="round" stroke-dasharray="18 9"/>
<path d="M1363.8 551.3 C1365.1 549.9 1368.5 546.5 1371.5 543.1 C1374.5 539.7 1378.5 534.8 1381.9 530.7 C1385.4 526.6 1388.8 522.4 1392.2 518.4 C1395.6 514.4 1396.5 514 1402.5 507 C1408.5 499.9 1421.3 484.4 1428.2 476.1 C1435.1 467.9 1439.8 461.9 1443.7 457.5 C1447.6 453.1 1449.1 452.2 1451.5 449.5 C1453.9 446.8 1454.7 445.1 1458.1 441 C1461.5 436.9 1466.4 431.6 1472 424.8 C1477.6 418 1484.8 408.7 1491.5 400.1 C1498.2 391.5 1505.1 382.4 1512 373.3 C1518.9 364.2 1526.6 354.4 1533 345.5 C1539.4 336.6 1545.8 326.6 1550.5 320 C1555.2 313.4 1555.9 312.6 1561 305.8 C1566.1 299 1574.2 287.9 1580.9 279 C1587.7 270.1 1594.3 261.3 1601.5 252.2 C1608.7 243.1 1618 231.5 1624 224.3 C1630 217.1 1632.8 214.7 1637.6 208.9 C1642.4 203.1 1649.2 194.6 1653.1 189.3 C1657 184 1658.1 181.3 1661.2 177 C1664.3 172.7 1668 167.9 1671.5 163.6 C1675 159.3 1678.5 155.1 1681.9 151.2 C1685.4 147.2 1688.8 143.7 1692.2 139.9 C1695.6 136.1 1699.1 132.4 1702.5 128.6 C1705.9 124.8 1710.2 119.8 1712.8 117.2 C1715.4 114.6 1714.8 116.4 1718 113 C1721.2 109.6 1728 100.5 1732.2 96.8 C1736.5 93.1 1741.6 91.6 1743.5 90.6" fill="none" stroke="#046C9A" stroke-width="4.3" stroke-linejoin="round"/>
<rect x="1388.6" y="549.3" width="10.2" height="10.2" fill="#FDD262"/>
<rect x="1654.9" y="223.4" width="10.2" height="10.2" fill="#FDD262"/>
<rect x="1746.9" y="114.2" width="10.2" height="10.2" fill="#FDD262"/>
<path d="M1409 546.8 L1415.8 558.6 L1402.2 558.6 Z" fill="#FDD262"/>
<path d="M1672.7 227 L1679.5 238.8 L1665.9 238.8 Z" fill="#FDD262"/>
<path d="M1772 111.9 L1778.8 123.7 L1765.2 123.7 Z" fill="#FDD262"/>
<circle cx="1370.5" cy="554.4" r="5.5" fill="#FDD262"/>
<circle cx="1632.5" cy="225.4" r="5.5" fill="#FDD262"/>
<circle cx="1731.1" cy="111.5" r="5.5" fill="#FDD262"/>
<path d="M1358 544.3 L1364.8 556.1 L1351.2 556.1 Z" fill="#446455"/>
<path d="M1613 221.4 L1619.8 233.2 L1606.2 233.2 Z" fill="#446455"/>
<path d="M1725 108.4 L1731.8 120.2 L1718.2 120.2 Z" fill="#446455"/>
<rect x="1345.8" y="546.8" width="10.2" height="10.2" fill="#446455"/>
<rect x="1607.8" y="218" width="10.2" height="10.2" fill="#446455"/>
<rect x="1707.9" y="108.2" width="10.2" height="10.2" fill="#446455"/>
<circle cx="1335.5" cy="551.9" r="5.5" fill="#446455"/>
<circle cx="1594.5" cy="223.1" r="5.5" fill="#446455"/>
<circle cx="1691.1" cy="111.5" r="5.5" fill="#446455"/>
<path d="M1412.8 544.3 L1419.6 556.1 L1406 556.1 Z" fill="#046C9A"/>
<path d="M1671.6 221.9 L1678.4 233.7 L1664.8 233.7 Z" fill="#046C9A"/>
<path d="M1762.6 110.7 L1769.4 122.5 L1755.8 122.5 Z" fill="#046C9A"/>
<rect x="1398.4" y="546.8" width="10.2" height="10.2" fill="#046C9A"/>
<rect x="1656.2" y="222.3" width="10.2" height="10.2" fill="#046C9A"/>
<rect x="1748.5" y="112.4" width="10.2" height="10.2" fill="#046C9A"/>
<circle cx="1363.8" cy="551.3" r="5.5" fill="#046C9A"/>
<circle cx="1624" cy="224.3" r="5.5" fill="#046C9A"/>
<circle cx="1718.5" cy="113.3" r="5.5" fill="#046C9A"/>
<line x1="1707" y1="98.9" x2="1725.3" y2="116.7" stroke="#262626" stroke-width="1.8" />
<rect x="1671.8" y="80.7" width="37" height="26.6" rx="4.5" ry="4.5" fill="#fff" stroke="#446455" stroke-width="1.3"/>
<text x="1690.3" y="98.9" font-size="13.6" fill="#446455" text-anchor="middle" font-weight="bold" >0.1</text>
<line x1="1784" y1="106" x2="1772.3" y2="119.1" stroke="#262626" stroke-width="1.8" />
<rect x="1774.7" y="80.7" width="36.8" height="26.6" rx="4.5" ry="4.5" fill="#fff" stroke="#FDD262" stroke-width="1.3"/>
<text x="1793.1" y="98.9" font-size="13.6" fill="#FDD262" text-anchor="middle" font-weight="bold" >0.1</text>
<line x1="1756.1" y1="141" x2="1759.3" y2="120.7" stroke="#262626" stroke-width="1.8" />
<rect x="1737" y="139.4" width="37.7" height="26.7" rx="4.5" ry="4.5" fill="#fff" stroke="#046C9A" stroke-width="1.3"/>
<text x="1755.8" y="157.7" font-size="13.6" fill="#046C9A" text-anchor="middle" font-weight="bold" >0.1</text>
<line x1="1657.6" y1="206" x2="1667" y2="223.6" stroke="#262626" stroke-width="1.8" />
<rect x="1644" y="181.8" width="23.8" height="26.4" rx="4.5" ry="4.5" fill="#fff" stroke="#046C9A" stroke-width="1.3"/>
<text x="1655.9" y="199.9" font-size="13.6" fill="#046C9A" text-anchor="middle" font-weight="bold" >1</text>
<line x1="1693" y1="249" x2="1675.1" y2="228.5" stroke="#262626" stroke-width="1.8" />
<rect x="1691.8" y="240.6" width="24.6" height="26.8" rx="4.5" ry="4.5" fill="#fff" stroke="#FDD262" stroke-width="1.3"/>
<text x="1704.1" y="258.9" font-size="13.6" fill="#FDD262" text-anchor="middle" font-weight="bold" >1</text>
<line x1="1605.6" y1="240" x2="1612.3" y2="229.8" stroke="#262626" stroke-width="1.8" />
<rect x="1586.5" y="238.4" width="23.9" height="25.8" rx="4.5" ry="4.5" fill="#fff" stroke="#446455" stroke-width="1.3"/>
<text x="1598.5" y="256.2" font-size="13.6" fill="#446455" text-anchor="middle" font-weight="bold" >1</text>
<line x1="1349.7" y1="534" x2="1357.9" y2="545.7" stroke="#262626" stroke-width="1.8" />
<rect x="1328.3" y="509.9" width="33.1" height="25.8" rx="4.5" ry="4.5" fill="#fff" stroke="#446455" stroke-width="1.3"/>
<text x="1344.8" y="527.7" font-size="13.6" fill="#446455" text-anchor="middle" font-weight="bold" >10</text>
<line x1="1408.7" y1="502" x2="1408.7" y2="547.9" stroke="#262626" stroke-width="1.8" />
<rect x="1392.8" y="478.3" width="33.1" height="25.8" rx="4.5" ry="4.5" fill="#fff" stroke="#FDD262" stroke-width="1.3"/>
<text x="1409.3" y="496.1" font-size="13.6" fill="#FDD262" text-anchor="middle" font-weight="bold" >10</text>
<line x1="1430" y1="550.1" x2="1414.9" y2="551.9" stroke="#262626" stroke-width="1.8" />
<rect x="1428.6" y="536.8" width="33.1" height="26.1" rx="4.5" ry="4.5" fill="#fff" stroke="#046C9A" stroke-width="1.3"/>
<text x="1445.2" y="554.7" font-size="13.6" fill="#046C9A" text-anchor="middle" font-weight="bold" >10</text>
<line x1="1374.3" y1="578.7" x2="1374.3" y2="572" stroke="#1a1a1a" stroke-width="2.0" />
<line x1="1399.2" y1="578.7" x2="1399.2" y2="572" stroke="#1a1a1a" stroke-width="2.0" />
<line x1="1420.7" y1="578.7" x2="1420.7" y2="572" stroke="#1a1a1a" stroke-width="2.0" />
<line x1="1439.8" y1="578.7" x2="1439.8" y2="572" stroke="#1a1a1a" stroke-width="2.0" />
<line x1="1568.8" y1="578.7" x2="1568.8" y2="572" stroke="#1a1a1a" stroke-width="2.0" />
<line x1="1634.3" y1="578.7" x2="1634.3" y2="572" stroke="#1a1a1a" stroke-width="2.0" />
<line x1="1680.8" y1="578.7" x2="1680.8" y2="572" stroke="#1a1a1a" stroke-width="2.0" />
<line x1="1746.3" y1="578.7" x2="1746.3" y2="572" stroke="#1a1a1a" stroke-width="2.0" />
<line x1="1771.2" y1="578.7" x2="1771.2" y2="572" stroke="#1a1a1a" stroke-width="2.0" />
<line x1="1792.7" y1="578.7" x2="1792.7" y2="572" stroke="#1a1a1a" stroke-width="2.0" />
<line x1="1811.8" y1="578.7" x2="1811.8" y2="572" stroke="#1a1a1a" stroke-width="2.0" />
<line x1="1344.8" y1="578.7" x2="1344.8" y2="565.7" stroke="#1a1a1a" stroke-width="2.0" />
<line x1="1716.8" y1="578.7" x2="1716.8" y2="565.7" stroke="#1a1a1a" stroke-width="2.0" />
<line x1="1456.8" y1="578.7" x2="1456.8" y2="559.4" stroke="#1a1a1a" stroke-width="2.0" />
<line x1="1312.8" y1="399.2" x2="1319.5" y2="399.2" stroke="#1a1a1a" stroke-width="2.0" />
<line x1="1312.8" y1="308" x2="1319.5" y2="308" stroke="#1a1a1a" stroke-width="2.0" />
<line x1="1312.8" y1="243.3" x2="1319.5" y2="243.3" stroke="#1a1a1a" stroke-width="2.0" />
<line x1="1312.8" y1="152.1" x2="1319.5" y2="152.1" stroke="#1a1a1a" stroke-width="2.0" />
<line x1="1312.8" y1="117.4" x2="1319.5" y2="117.4" stroke="#1a1a1a" stroke-width="2.0" />
<line x1="1312.8" y1="87.4" x2="1319.5" y2="87.4" stroke="#1a1a1a" stroke-width="2.0" />
<line x1="1312.8" y1="193.1" x2="1325.8" y2="193.1" stroke="#1a1a1a" stroke-width="2.0" />
<line x1="1312.8" y1="555.2" x2="1332.1" y2="555.2" stroke="#1a1a1a" stroke-width="2.0" />
<rect x="1312.8" y="65.2" width="513.9" height="513.5" fill="none" stroke="#333333" stroke-width="1.5"/>
<line x1="1344.8" y1="578.7" x2="1344.8" y2="584.5" stroke="#333333" stroke-width="1.4" />
<text x="1344.8" y="605.4" font-size="22.2" fill="#4D4D4D" text-anchor="middle" >500</text>
<line x1="1456.8" y1="578.7" x2="1456.8" y2="584.5" stroke="#333333" stroke-width="1.4" />
<text x="1456.8" y="605.4" font-size="22.2" fill="#4D4D4D" text-anchor="middle" >1000</text>
<line x1="1634.3" y1="578.7" x2="1634.3" y2="584.5" stroke="#333333" stroke-width="1.4" />
<text x="1634.3" y="605.4" font-size="22.2" fill="#4D4D4D" text-anchor="middle" >3000</text>
<line x1="1716.8" y1="578.7" x2="1716.8" y2="584.5" stroke="#333333" stroke-width="1.4" />
<text x="1716.8" y="605.4" font-size="22.2" fill="#4D4D4D" text-anchor="middle" >5000</text>
<line x1="1307" y1="193.1" x2="1312.8" y2="193.1" stroke="#333333" stroke-width="1.4" />
<text x="1300.8" y="200.7" font-size="22.2" fill="#4D4D4D" text-anchor="end" >50000</text>
<line x1="1307" y1="308" x2="1312.8" y2="308" stroke="#333333" stroke-width="1.4" />
<text x="1300.8" y="315.6" font-size="22.2" fill="#4D4D4D" text-anchor="end" >30000</text>
<line x1="1307" y1="555.2" x2="1312.8" y2="555.2" stroke="#333333" stroke-width="1.4" />
<text x="1300.8" y="562.8" font-size="22.2" fill="#4D4D4D" text-anchor="end" >10000</text>
<text x="1570" y="52.4" font-size="22.1" fill="#1A1A1A" text-anchor="middle" >Real reads</text>
<text x="1562.6" y="635.7" font-size="26.4" fill="#000" text-anchor="middle" >Number of expressed non−NA12878 transcript</text>
<text x="1228.6" y="322" font-size="26.4" fill="#000" text-anchor="middle" transform="rotate(-90 1228.6 322)" >Number of expressed NA12878 transcripts</text>
<rect x="99.2" y="757.4" width="615.6" height="533.7" fill="#fff"/>
<line x1="99.2" y1="877.2" x2="714.9" y2="877.2" stroke="#EBEBEB" stroke-width="0.8" />
<line x1="99.2" y1="1033.3" x2="714.9" y2="1033.3" stroke="#EBEBEB" stroke-width="0.8" />
<line x1="99.2" y1="1189.5" x2="714.9" y2="1189.5" stroke="#EBEBEB" stroke-width="0.8" />
<line x1="186.8" y1="757.4" x2="186.8" y2="1291.1" stroke="#EBEBEB" stroke-width="1.6" />
<line x1="333.4" y1="757.4" x2="333.4" y2="1291.1" stroke="#EBEBEB" stroke-width="1.6" />
<line x1="480.2" y1="757.4" x2="480.2" y2="1291.1" stroke="#EBEBEB" stroke-width="1.6" />
<line x1="626.9" y1="757.4" x2="626.9" y2="1291.1" stroke="#EBEBEB" stroke-width="1.6" />
<line x1="99.2" y1="799.1" x2="714.9" y2="799.1" stroke="#EBEBEB" stroke-width="1.6" />
<line x1="99.2" y1="955.3" x2="714.9" y2="955.3" stroke="#EBEBEB" stroke-width="1.6" />
<line x1="99.2" y1="1111.4" x2="714.9" y2="1111.4" stroke="#EBEBEB" stroke-width="1.6" />
<line x1="99.2" y1="1267.6" x2="714.9" y2="1267.6" stroke="#EBEBEB" stroke-width="1.6" />
<rect x="150" y="934" width="24.6" height="333.6" fill="#446455"/>
<rect x="174.5" y="919.8" width="24.6" height="347.8" fill="#FDD262"/>
<rect x="199.1" y="880.9" width="24.6" height="386.7" fill="#046C9A"/>
<rect x="296.6" y="872.5" width="24.6" height="395.1" fill="#446455" fill-opacity="0.6"/>
<rect x="296.6" y="1227.8" width="24.6" height="39.8" fill="#446455"/>
<rect x="321.1" y="853.4" width="24.6" height="414.2" fill="#FDD262" fill-opacity="0.6"/>
<rect x="321.1" y="1225.3" width="24.6" height="42.3" fill="#FDD262"/>
<rect x="345.7" y="803.2" width="24.6" height="464.4" fill="#046C9A" fill-opacity="0.6"/>
<rect x="345.7" y="1219.9" width="24.6" height="47.7" fill="#046C9A"/>
<rect x="443.4" y="858.8" width="24.6" height="408.8" fill="#446455" fill-opacity="0.6"/>
<rect x="443.4" y="1258.8" width="24.6" height="8.8" fill="#446455"/>
<rect x="467.9" y="836.1" width="24.6" height="431.5" fill="#FDD262" fill-opacity="0.6"/>
<rect x="467.9" y="1257.8" width="24.6" height="9.8" fill="#FDD262"/>
<rect x="492.5" y="781" width="24.6" height="486.6" fill="#046C9A" fill-opacity="0.6"/>
<rect x="492.5" y="1256.3" width="24.6" height="11.3" fill="#046C9A"/>
<rect x="590.1" y="870.1" width="24.6" height="397.5" fill="#446455" fill-opacity="0.6"/>
<rect x="590.1" y="1259.3" width="24.6" height="8.3" fill="#446455"/>
<rect x="614.6" y="846" width="24.6" height="421.6" fill="#FDD262" fill-opacity="0.6"/>
<rect x="614.6" y="1258.3" width="24.6" height="9.3" fill="#FDD262"/>
<rect x="639.2" y="791.8" width="24.6" height="475.8" fill="#046C9A" fill-opacity="0.6"/>
<rect x="639.2" y="1257.3" width="24.6" height="10.3" fill="#046C9A"/>
<rect x="99.2" y="757.4" width="615.6" height="533.7" fill="none" stroke="#333333" stroke-width="1.5"/>
<line x1="93.5" y1="799.1" x2="99.2" y2="799.1" stroke="#333333" stroke-width="1.4" />
<text x="87.2" y="806.5" font-size="21.1" fill="#4D4D4D" text-anchor="end" >0.15</text>
<line x1="93.5" y1="955.3" x2="99.2" y2="955.3" stroke="#333333" stroke-width="1.4" />
<text x="87.2" y="962.7" font-size="21.1" fill="#4D4D4D" text-anchor="end" >0.10</text>
<line x1="93.5" y1="1111.4" x2="99.2" y2="1111.4" stroke="#333333" stroke-width="1.4" />
<text x="87.2" y="1118.8" font-size="21.1" fill="#4D4D4D" text-anchor="end" >0.05</text>
<line x1="93.5" y1="1267.6" x2="99.2" y2="1267.6" stroke="#333333" stroke-width="1.4" />
<text x="87.2" y="1275" font-size="21.1" fill="#4D4D4D" text-anchor="end" >0.00</text>
<line x1="186.8" y1="1291.1" x2="186.8" y2="1296.9" stroke="#333333" stroke-width="1.4" />
<text x="186.8" y="1317.4" font-size="21.1" fill="#4D4D4D" text-anchor="middle" >Personal</text>
<text x="186.8" y="1340.4" font-size="21.1" fill="#4D4D4D" text-anchor="middle" >(NA12878)</text>
<line x1="333.4" y1="1291.1" x2="333.4" y2="1296.9" stroke="#333333" stroke-width="1.4" />
<text x="333.4" y="1317.4" font-size="21.1" fill="#4D4D4D" text-anchor="middle" >Europe</text>
<text x="333.4" y="1340.4" font-size="21.1" fill="#4D4D4D" text-anchor="middle" >(excl. CEU)</text>
<line x1="480.2" y1="1291.1" x2="480.2" y2="1296.9" stroke="#333333" stroke-width="1.4" />
<text x="480.2" y="1317.4" font-size="21.1" fill="#4D4D4D" text-anchor="middle" >Whole</text>
<text x="480.2" y="1340.4" font-size="21.1" fill="#4D4D4D" text-anchor="middle" >(excl. CEU)</text>
<line x1="626.9" y1="1291.1" x2="626.9" y2="1296.9" stroke="#333333" stroke-width="1.4" />
<text x="626.9" y="1317.4" font-size="21.1" fill="#4D4D4D" text-anchor="middle" >Whole</text>
<text x="407.1" y="745.2" font-size="21.1" fill="#1A1A1A" text-anchor="middle" >Simulated reads (vg)</text>
<text x="34.4" y="1025.6" font-size="27.35" fill="#000" text-anchor="middle" transform="rotate(-90 34.4 1025.6)" >Mean relative expression difference</text>
<text x="787.4" y="894.1" font-size="27.8" fill="#000" text-anchor="start" >Method</text>
<rect x="789.3" y="912.1" width="33.4" height="33.2" fill="#446455"/>
<text x="837.7" y="935.4" font-size="21.1" fill="#000" text-anchor="start" >rpvg (vg mpmap)</text>
<rect x="789.3" y="948.3" width="33.4" height="33.2" fill="#FDD262"/>
<text x="837.7" y="971.6" font-size="21.1" fill="#000" text-anchor="start" >rpvg (vg mpmap, single−path)</text>
<rect x="789.3" y="984.5" width="33.4" height="33.2" fill="#046C9A"/>
<text x="837.7" y="1007.8" font-size="21.1" fill="#000" text-anchor="start" >rpvg (vg map, single−path)</text>
<text x="788.3" y="1087.8" font-size="26.9" fill="#000" text-anchor="start" >Transcripts</text>
<rect x="789.3" y="1105.9" width="33.4" height="33.2" fill="#595959"/>
<text x="837.7" y="1129" font-size="21.1" fill="#000" text-anchor="start" >All</text>
<rect x="789.3" y="1142.2" width="33.4" height="33.2" fill="#9B9B9B"/>
<text x="837.7" y="1165.3" font-size="21.1" fill="#000" text-anchor="start" >NA12878</text>
<rect x="1295.1" y="758.4" width="361.5" height="543.6" fill="#fff"/>
<line x1="1295.1" y1="844.4" x2="1656.6" y2="844.4" stroke="#EBEBEB" stroke-width="0.8" />
<line x1="1295.1" y1="968.2" x2="1656.6" y2="968.2" stroke="#EBEBEB" stroke-width="0.8" />
<line x1="1295.1" y1="1092.1" x2="1656.6" y2="1092.1" stroke="#EBEBEB" stroke-width="0.8" />
<line x1="1295.1" y1="1215.9" x2="1656.6" y2="1215.9" stroke="#EBEBEB" stroke-width="0.8" />
<line x1="1362.2" y1="758.4" x2="1362.2" y2="1302" stroke="#EBEBEB" stroke-width="1.6" />
<line x1="1475.6" y1="758.4" x2="1475.6" y2="1302" stroke="#EBEBEB" stroke-width="1.6" />
<line x1="1588.9" y1="758.4" x2="1588.9" y2="1302" stroke="#EBEBEB" stroke-width="1.6" />
<line x1="1295.1" y1="782.5" x2="1656.6" y2="782.5" stroke="#EBEBEB" stroke-width="1.6" />
<line x1="1295.1" y1="906.3" x2="1656.6" y2="906.3" stroke="#EBEBEB" stroke-width="1.6" />
<line x1="1295.1" y1="1030.2" x2="1656.6" y2="1030.2" stroke="#EBEBEB" stroke-width="1.6" />
<line x1="1295.1" y1="1154" x2="1656.6" y2="1154" stroke="#EBEBEB" stroke-width="1.6" />
<line x1="1295.1" y1="1277.8" x2="1656.6" y2="1277.8" stroke="#EBEBEB" stroke-width="1.6" />
<rect x="1333.9" y="787.9" width="18.9" height="489.9" fill="#446455"/>
<rect x="1352.8" y="789.4" width="18.9" height="488.4" fill="#FDD262"/>
<rect x="1371.7" y="791.3" width="18.9" height="486.5" fill="#046C9A"/>
<rect x="1447.2" y="787.9" width="18.9" height="489.9" fill="#446455"/>
<rect x="1466.2" y="789.4" width="18.9" height="488.4" fill="#FDD262"/>
<rect x="1485" y="793.3" width="18.9" height="484.5" fill="#046C9A"/>
<rect x="1560.6" y="784.4" width="18.9" height="493.4" fill="#446455"/>
<rect x="1579.5" y="788.4" width="18.9" height="489.4" fill="#FDD262"/>
<rect x="1598.4" y="790.8" width="18.9" height="487" fill="#046C9A"/>
<rect x="1295.1" y="758.4" width="361.5" height="543.6" fill="none" stroke="#333333" stroke-width="1.5"/>
<line x1="1362.2" y1="1302" x2="1362.2" y2="1308.8" stroke="#333333" stroke-width="1.5" />
<text x="1362.2" y="1329.8" font-size="22.2" fill="#4D4D4D" text-anchor="middle" >Europe</text>
<text x="1362.2" y="1352.9" font-size="22.0" fill="#4D4D4D" text-anchor="middle" >(excl. CEU)</text>
<line x1="1475.6" y1="1302" x2="1475.6" y2="1308.8" stroke="#333333" stroke-width="1.5" />
<text x="1475.6" y="1329.8" font-size="22.2" fill="#4D4D4D" text-anchor="middle" >Whole</text>
<text x="1475.6" y="1352.9" font-size="22.0" fill="#4D4D4D" text-anchor="middle" >(excl. CEU)</text>
<line x1="1588.9" y1="1302" x2="1588.9" y2="1308.8" stroke="#333333" stroke-width="1.5" />
<text x="1588.9" y="1329.8" font-size="22.2" fill="#4D4D4D" text-anchor="middle" >Whole</text>
<text x="1475.8" y="744.3" font-size="22.1" fill="#1A1A1A" text-anchor="middle" >Simulated reads (vg)</text>
<rect x="1692.2" y="758.4" width="361.6" height="543.6" fill="#fff"/>
<line x1="1692.2" y1="844.4" x2="2053.8" y2="844.4" stroke="#EBEBEB" stroke-width="0.8" />
<line x1="1692.2" y1="968.2" x2="2053.8" y2="968.2" stroke="#EBEBEB" stroke-width="0.8" />
<line x1="1692.2" y1="1092.1" x2="2053.8" y2="1092.1" stroke="#EBEBEB" stroke-width="0.8" />
<line x1="1692.2" y1="1215.9" x2="2053.8" y2="1215.9" stroke="#EBEBEB" stroke-width="0.8" />
<line x1="1759.4" y1="758.4" x2="1759.4" y2="1302" stroke="#EBEBEB" stroke-width="1.6" />
<line x1="1873" y1="758.4" x2="1873" y2="1302" stroke="#EBEBEB" stroke-width="1.6" />
<line x1="1986.3" y1="758.4" x2="1986.3" y2="1302" stroke="#EBEBEB" stroke-width="1.6" />
<line x1="1692.2" y1="782.5" x2="2053.8" y2="782.5" stroke="#EBEBEB" stroke-width="1.6" />
<line x1="1692.2" y1="906.3" x2="2053.8" y2="906.3" stroke="#EBEBEB" stroke-width="1.6" />
<line x1="1692.2" y1="1030.2" x2="2053.8" y2="1030.2" stroke="#EBEBEB" stroke-width="1.6" />
<line x1="1692.2" y1="1154" x2="2053.8" y2="1154" stroke="#EBEBEB" stroke-width="1.6" />
<line x1="1692.2" y1="1277.8" x2="2053.8" y2="1277.8" stroke="#EBEBEB" stroke-width="1.6" />
<rect x="1731.1" y="806.1" width="18.9" height="471.7" fill="#446455"/>
<rect x="1750" y="808" width="18.9" height="469.8" fill="#FDD262"/>
<rect x="1768.9" y="806.1" width="18.9" height="471.7" fill="#046C9A"/>
<rect x="1844.7" y="812" width="18.9" height="465.8" fill="#446455"/>
<rect x="1863.6" y="818.4" width="18.9" height="459.4" fill="#FDD262"/>
<rect x="1882.5" y="813.9" width="18.9" height="463.9" fill="#046C9A"/>
<rect x="1958" y="809" width="18.9" height="468.8" fill="#446455"/>
<rect x="1976.9" y="814.9" width="18.9" height="462.9" fill="#FDD262"/>
<rect x="1995.8" y="813" width="18.9" height="464.8" fill="#046C9A"/>
<rect x="1692.2" y="758.4" width="361.6" height="543.6" fill="none" stroke="#333333" stroke-width="1.5"/>
<line x1="1759.4" y1="1302" x2="1759.4" y2="1308.8" stroke="#333333" stroke-width="1.5" />
<text x="1759.4" y="1329.8" font-size="22.2" fill="#4D4D4D" text-anchor="middle" >Europe</text>
<text x="1759.4" y="1352.9" font-size="22.0" fill="#4D4D4D" text-anchor="middle" >(excl. CEU)</text>
<line x1="1873" y1="1302" x2="1873" y2="1308.8" stroke="#333333" stroke-width="1.5" />
<text x="1873" y="1329.8" font-size="22.2" fill="#4D4D4D" text-anchor="middle" >Whole</text>
<text x="1873" y="1352.9" font-size="22.0" fill="#4D4D4D" text-anchor="middle" >(excl. CEU)</text>
<line x1="1986.3" y1="1302" x2="1986.3" y2="1308.8" stroke="#333333" stroke-width="1.5" />
<text x="1986.3" y="1329.8" font-size="22.2" fill="#4D4D4D" text-anchor="middle" >Whole</text>
<text x="1873" y="744.3" font-size="22.1" fill="#1A1A1A" text-anchor="middle" >Real reads</text>
<line x1="1288.7" y1="782.5" x2="1295.1" y2="782.5" stroke="#333333" stroke-width="1.5" />
<text x="1282.6" y="790.1" font-size="21.6" fill="#4D4D4D" text-anchor="end" >1.00</text>
<line x1="1288.7" y1="906.3" x2="1295.1" y2="906.3" stroke="#333333" stroke-width="1.5" />
<text x="1282.6" y="913.9" font-size="21.6" fill="#4D4D4D" text-anchor="end" >0.75</text>
<line x1="1288.7" y1="1030.2" x2="1295.1" y2="1030.2" stroke="#333333" stroke-width="1.5" />
<text x="1282.6" y="1037.8" font-size="21.6" fill="#4D4D4D" text-anchor="end" >0.50</text>
<line x1="1288.7" y1="1154" x2="1295.1" y2="1154" stroke="#333333" stroke-width="1.5" />
<text x="1282.6" y="1161.6" font-size="21.6" fill="#4D4D4D" text-anchor="end" >0.25</text>
<line x1="1288.7" y1="1277.8" x2="1295.1" y2="1277.8" stroke="#333333" stroke-width="1.5" />
<text x="1282.6" y="1285.4" font-size="21.6" fill="#4D4D4D" text-anchor="end" >0.00</text>
<text x="1226.8" y="1029.6" font-size="26.6" fill="#000" text-anchor="middle" transform="rotate(-90 1226.8 1029.6)" >Fraction TPM on NA12878 haplotypes</text>
</svg>
</body></html>
